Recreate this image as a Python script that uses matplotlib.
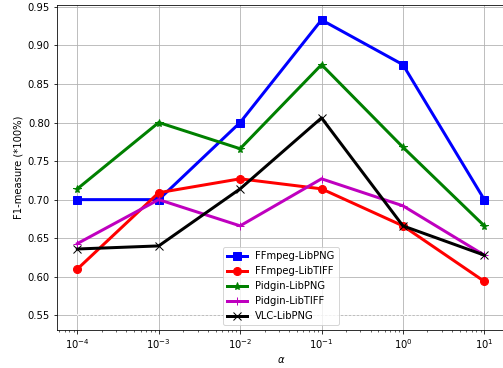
import numpy as np
import matplotlib.pyplot as plt

alpha = [1e-4, 1e-3, 1e-2, 1e-1, 1e0, 1e1]
ffmpeg_libpng = [0.700, 0.700, 0.800, 0.933, 0.875, 0.700]
ffmpeg_libtiff = [0.610, 0.709, 0.727, 0.714, 0.666, 0.594]
pidgin_libpng = [0.714, 0.800, 0.766, 0.875, 0.768, 0.666]
pidgin_libtiff = [0.643, 0.700, 0.666, 0.727, 0.692, 0.628]
vlc_libpng = [0.636, 0.640, 0.714, 0.806, 0.666, 0.628]
baseline = [0.55] * 6

fig = plt.figure(figsize=(503 / 72, 368 / 72), dpi=72)
ax = fig.add_axes([0.1133, 0.103, 0.89, 0.883])
ax.plot(alpha, ffmpeg_libpng, 'b-s', lw=3, ms=8, label='FFmpeg-LibPNG')
ax.plot(alpha, ffmpeg_libtiff, 'r-o', lw=3, ms=8, label='FFmpeg-LibTIFF')
ax.plot(alpha, pidgin_libpng, 'g-*', lw=3, ms=8, label='Pidgin-LibPNG')
ax.plot(alpha, pidgin_libtiff, 'm-+', lw=3, ms=8, label='Pidgin-LibTIFF')
ax.plot(alpha, vlc_libpng, 'k-x', lw=3, ms=8, label='VLC-LibPNG')
ax.plot(alpha, baseline, 'w:')
ax.set_xscale('log')
ax.grid(True)
ax.set_xlabel(r'$\alpha$')
ax.set_ylabel('F1-measure (*100%)')
ax.legend(loc='lower center')
fig.savefig('out.png', dpi=72)
